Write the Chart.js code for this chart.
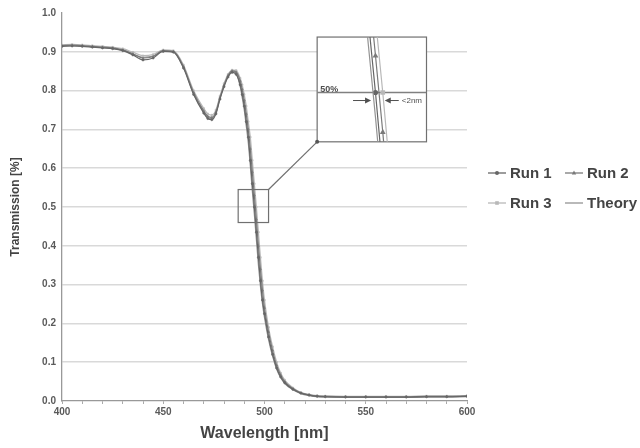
<!DOCTYPE html>
<html>
<head>
<meta charset="utf-8">
<script src="https://cdn.jsdelivr.net/npm/chart.js@4/dist/chart.umd.min.js"></script>
<style>
html,body{margin:0;padding:0;background:#fff;}
#wrap{width:640px;height:448px;position:relative;}
</style>
</head>
<body>
<div id="wrap"><canvas id="c" width="640" height="448"></canvas></div>
<script>
// ---- data ----
const wavelengths = [400,405,410,415,420,425,430,435,440,445,450,455,460,465,470,
  472,474,476,478,480,482,484,486,488,
  489,490,491,492,493,494,495,496,497,498,499,500,
  502,504,506,508,510,
  514,518,522,526,530,
  540,550,560,570,580,590,600];
const run1 = [.914,.915,.914,.912,.910,.908,.903,.892,.879,.884,.901,.899,.858,.790,.742,
  .728,.725,.740,.778,.810,.835,.847,.842,.815,
  .790,.760,.720,.680,.620,.560,.500,.435,.370,.310,.260,.225,
  .165,.120,.085,.062,.047,
  .030,.020,.015,.012,.011,
  .010,.010,.010,.010,.011,.011,.012];
const run2 = [.916,.917,.916,.914,.912,.910,.905,.895,.884,.888,.903,.901,.862,.795,.748,
  .734,.731,.745,.782,.814,.839,.851,.848,.825,
  .803,.775,.740,.700,.650,.590,.530,.468,.400,.340,.285,.240,
  .178,.130,.092,.067,.050,
  .032,.021,.016,.013,.012,
  .011,.011,.011,.011,.012,.012,.013];
const run3 = [.918,.919,.918,.916,.914,.912,.908,.899,.890,.893,.905,.903,.866,.800,.754,
  .740,.737,.750,.786,.818,.842,.853,.852,.832,
  .815,.790,.760,.720,.680,.620,.560,.500,.435,.370,.310,.260,
  .190,.140,.100,.072,.054,
  .034,.022,.017,.014,.013,
  .012,.012,.012,.012,.013,.013,.014];
const theory = [.915,.916,.915,.913,.911,.909,.904,.894,.886,.889,.902,.900,.860,.792,.745,
  .731,.728,.742,.780,.812,.837,.850,.846,.810,
  .782,.750,.708,.665,.605,.540,.480,.415,.350,.295,.250,.215,
  .158,.115,.082,.060,.045,
  .029,.019,.014,.011,.010,
  .009,.009,.009,.009,.010,.010,.011];
const seriesNames = ['Run 1','Run 2','Run 3','Theory'];
const xTickLabels = [400,450,500,550,600];
const yTickLabels = ['0.0','0.1','0.2','0.3','0.4','0.5','0.6','0.7','0.8','0.9','1.0'];
// zoom window (data units) and inset placement (data units)
const zoomX = [487, 502];
const zoomY = [0.46, 0.545];
const insetX = [526, 580];
const insetY = [0.668, 0.938];
const halfLevel = 0.5;

// ---- styles ----
const colors = ['#666666','#7a7a7a','#b8b8b8','#939393'];
const markers = ['circle','triangle','rect','none'];
Chart.defaults.font.family = '"Liberation Sans", Arial, sans-serif';

const allSeries = [run1, run2, run3, theory];
const datasets = allSeries.map((s, i) => ({
  label: seriesNames[i],
  data: wavelengths.map((w, j) => ({x: w, y: s[j]})),
  borderColor: colors[i],
  backgroundColor: colors[i],
  borderWidth: 1.2,
  pointRadius: markers[i] === 'none' ? 0 : 1.1,
  pointStyle: markers[i] === 'none' ? false : markers[i],
  pointBorderWidth: 0.6,
  tension: 0.35,
  cubicInterpolationMode: 'monotone'
}));

function drawMarker(ctx, style, x, y, r, color) {
  ctx.save();
  ctx.fillStyle = color; ctx.strokeStyle = color; ctx.lineWidth = 1;
  ctx.beginPath();
  if (style === 'circle') { ctx.arc(x, y, r, 0, Math.PI * 2); ctx.fill(); }
  else if (style === 'triangle') { ctx.moveTo(x, y - r * 1.2); ctx.lineTo(x + r * 1.1, y + r * 0.8); ctx.lineTo(x - r * 1.1, y + r * 0.8); ctx.closePath(); ctx.fill(); }
  else if (style === 'rect') { ctx.rect(x - r * 0.9, y - r * 0.9, r * 1.8, r * 1.8); ctx.fill(); }
  ctx.restore();
}

function crossing(series, level) {
  for (let j = 1; j < series.length; j++) {
    if (series[j - 1] >= level && series[j] < level) {
      const t = (series[j - 1] - level) / (series[j - 1] - series[j]);
      return wavelengths[j - 1] + t * (wavelengths[j] - wavelengths[j - 1]);
    }
  }
  return null;
}

function arrow(ctx, x0, x1, y) {
  const dir = Math.sign(x1 - x0);
  ctx.beginPath(); ctx.moveTo(x0, y); ctx.lineTo(x1 - dir * 4, y); ctx.stroke();
  ctx.beginPath(); ctx.moveTo(x1, y); ctx.lineTo(x1 - dir * 6, y - 3); ctx.lineTo(x1 - dir * 6, y + 3); ctx.closePath(); ctx.fill();
}

const insetPlugin = {
  id: 'inset',
  afterDatasetsDraw(chart) {
    const {ctx} = chart; const x = chart.scales.x, y = chart.scales.y;
    const sx0 = x.getPixelForValue(zoomX[0]), sx1 = x.getPixelForValue(zoomX[1]);
    const sy0 = y.getPixelForValue(zoomY[1]), sy1 = y.getPixelForValue(zoomY[0]);
    const bx0 = x.getPixelForValue(insetX[0]), bx1 = x.getPixelForValue(insetX[1]);
    const by0 = y.getPixelForValue(insetY[1]), by1 = y.getPixelForValue(insetY[0]);
    ctx.save();
    ctx.strokeStyle = '#707070'; ctx.lineWidth = 1.2;
    ctx.strokeRect(sx0, sy0, sx1 - sx0, sy1 - sy0);
    ctx.beginPath(); ctx.moveTo(sx1, sy0); ctx.lineTo(bx0, by1); ctx.stroke();
    ctx.fillStyle = '#fff'; ctx.fillRect(bx0, by0, bx1 - bx0, by1 - by0);
    ctx.strokeRect(bx0, by0, bx1 - bx0, by1 - by0);
    const mapX = v => bx0 + (v - zoomX[0]) / (zoomX[1] - zoomX[0]) * (bx1 - bx0);
    const mapY = v => by0 + (zoomY[1] - v) / (zoomY[1] - zoomY[0]) * (by1 - by0);
    ctx.save();
    ctx.beginPath(); ctx.rect(bx0, by0, bx1 - bx0, by1 - by0); ctx.clip();
    ctx.strokeStyle = '#808080'; ctx.lineWidth = 1.3;
    ctx.beginPath(); ctx.moveTo(bx0, mapY(halfLevel)); ctx.lineTo(bx1, mapY(halfLevel)); ctx.stroke();
    allSeries.forEach((s, i) => {
      ctx.strokeStyle = colors[i]; ctx.lineWidth = 1.2;
      ctx.beginPath();
      s.forEach((v, j) => { const px = mapX(wavelengths[j]), py = mapY(v); if (j === 0) ctx.moveTo(px, py); else ctx.lineTo(px, py); });
      ctx.stroke();
      if (markers[i] !== 'none') {
        s.forEach((v, j) => {
          const px = mapX(wavelengths[j]), py = mapY(v);
          if (px > bx0 && px < bx1 && py > by0 && py < by1) drawMarker(ctx, markers[i], px, py, 2.6, colors[i]);
        });
      }
    });
    ctx.restore();
    ctx.fillStyle = '#555';
    ctx.beginPath(); ctx.arc(bx0, by1, 2, 0, Math.PI * 2); ctx.fill();
    const yh = mapY(halfLevel);
    ctx.fillStyle = '#505050'; ctx.font = 'bold 9px "Liberation Sans", Arial, sans-serif';
    ctx.textBaseline = 'bottom'; ctx.textAlign = 'left';
    ctx.fillText('50%', bx0 + 3, yh + 1);
    const cr = allSeries.map(s => crossing(s, halfLevel)).filter(v => v !== null);
    const cMin = mapX(Math.min(...cr)), cMax = mapX(Math.max(...cr));
    ctx.strokeStyle = '#505050'; ctx.lineWidth = 1;
    arrow(ctx, cMin - 20, cMin - 2, yh + 8);
    arrow(ctx, cMax + 16, cMax + 2, yh + 8);
    ctx.font = '8px "Liberation Sans", Arial, sans-serif'; ctx.textBaseline = 'middle';
    ctx.fillText('<2nm', cMax + 19, yh + 8);
    ctx.restore();
  }
};

const legendPlugin = {
  id: 'customLegend',
  afterDraw(chart) {
    const {ctx} = chart;
    const pos = [[488, 173], [565, 173], [488, 203], [565, 203]];
    ctx.save();
    seriesNames.forEach((name, i) => {
      const [lx, ly] = pos[i];
      ctx.strokeStyle = colors[i]; ctx.lineWidth = 1.3;
      ctx.beginPath(); ctx.moveTo(lx, ly); ctx.lineTo(lx + 18, ly); ctx.stroke();
      if (markers[i] !== 'none') drawMarker(ctx, markers[i], lx + 9, ly, 2, colors[i]);
      ctx.fillStyle = '#444';
      ctx.font = 'bold 15px "Liberation Sans", Arial, sans-serif';
      ctx.textBaseline = 'middle'; ctx.textAlign = 'left';
      ctx.fillText(name, lx + 22, ly + 1);
    });
    ctx.restore();
  }
};

new Chart(document.getElementById('c'), {
  type: 'line',
  data: {datasets},
  plugins: [insetPlugin, legendPlugin],
  options: {
    responsive: false,
    animation: false,
    events: [],
    layout: {padding: {left: 0, top: 13, right: 173, bottom: 0}},
    plugins: {legend: {display: false}, tooltip: {enabled: false}},
    scales: {
      x: {
        type: 'linear', min: 400, max: 600,
        afterBuildTicks: s => { const t = []; for (let v = 400; v <= 600; v += 10) t.push({value: v}); s.ticks = t; },
        ticks: {autoSkip: false, maxRotation: 0, padding: 2, color: '#5a5a5a',
          font: {size: 10, weight: 'bold'},
          callback: v => xTickLabels.includes(v) ? String(v) : ''},
        grid: {drawOnChartArea: false, drawTicks: true, tickLength: 3, color: '#aaa', lineWidth: 1},
        border: {color: '#999', width: 1.3},
        title: {display: true, text: 'Wavelength [nm]', color: '#444',
          font: {size: 16, weight: 'bold'}, padding: {top: 0, bottom: 5}},
        afterFit: s => { s.height = 47; }
      },
      y: {
        min: 0, max: 1,
        afterBuildTicks: s => { s.ticks = yTickLabels.map(t => ({value: parseFloat(t)})); },
        ticks: {padding: 6, color: '#5a5a5a', font: {size: 10, weight: 'bold'},
          callback: (v, i) => yTickLabels[i]},
        grid: {drawTicks: false, lineWidth: 1.5,
          color: c => (c.tick && c.tick.value > 0.05 && c.tick.value < 0.95) ? '#d9d9d9' : 'rgba(0,0,0,0)'},
        border: {color: '#999', width: 1.3},
        title: {display: true, text: 'Transmission [%]', color: '#444',
          font: {size: 12, weight: 'bold'}, padding: {top: 8, bottom: 0}},
        afterFit: s => { s.width = 62; }
      }
    }
  }
});
</script>
</body>
</html>
